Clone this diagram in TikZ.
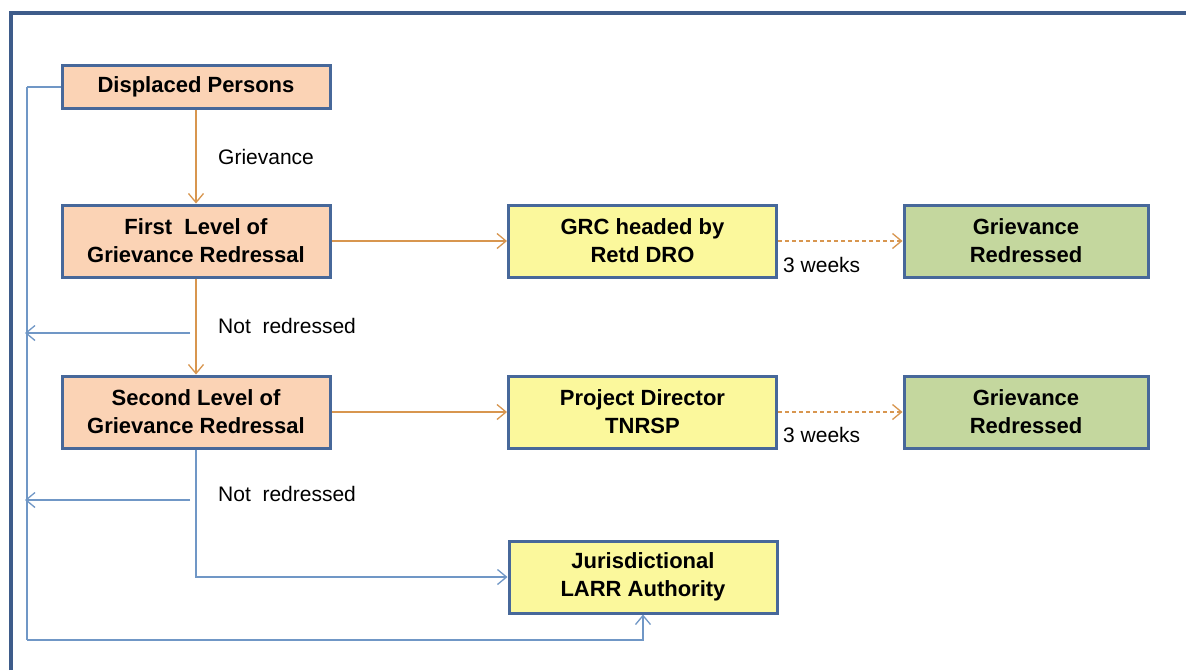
\documentclass[tikz,border=0pt]{standalone}
\usepackage{fontspec}
\setmainfont{Liberation Sans}
\usetikzlibrary{arrows.meta}
\definecolor{boxedge}{HTML}{47689A}
\definecolor{peach}{HTML}{FBD3B5}
\definecolor{lemon}{HTML}{FBF89C}
\definecolor{sage}{HTML}{C4D79E}
\definecolor{rust}{HTML}{D8964F}
\definecolor{steel}{HTML}{7097C6}
\definecolor{framecol}{HTML}{3E5C8A}
\tikzset{
  box/.style={draw=boxedge, line width=3pt, minimum width=268pt, minimum height=72pt,
    inner sep=0pt, align=center, font=\fontsize{22}{28}\selectfont\bfseries},
  note/.style={anchor=west, inner sep=0pt, font=\fontsize{21}{25}\selectfont},
  flow/.style={draw=rust, line width=1.3pt, ->},
  back/.style={draw=steel, line width=1.3pt},
  >={Straight Barb[length=9pt,width=15pt]}
}

\begin{document}
\begin{tikzpicture}[x=1pt, y=-1pt]
\useasboundingbox[fill=white] (0,0) rectangle (1186,670);
\draw[framecol, line width=3.5pt] (11,670) -- (11,13) -- (1186,13);
% blue return paths
\coordinate (railtop) at (27,87);
\coordinate (railfoot) at (27,640);
\coordinate (nr1) at (190,333);
\coordinate (nr2) at (190,500);
\coordinate (rail1) at (25,333);
\coordinate (rail2) at (25,500);
\draw[back] (railtop) -- (railfoot);
\draw[back, ->] (nr1) -- (rail1);
\draw[back, ->] (nr2) -- (rail2);
% boxes
\node[box, fill=peach, minimum height=43pt] at (196,87) (dp) {Displaced Persons};
\node[box, fill=peach] at (196,241) (first) {First\ \ Level of\\Grievance Redressal};
\node[box, fill=peach] at (196,412) (second) {Second Level of\\Grievance Redressal};
\node[box, fill=lemon] at (642.5,241) (grc) {GRC headed by\\Retd DRO};
\node[box, fill=lemon] at (642.5,412) (pd) {Project Director\\TNRSP};
\node[box, fill=sage, minimum width=244pt] at (1026,241) (done1) {Grievance\\Redressed};
\node[box, fill=sage, minimum width=244pt] at (1026,412) (done2) {Grievance\\Redressed};
\node[box, fill=lemon] at (643,577) (larr) {Jurisdictional\\LARR Authority};
% labels
\node[note] at (218,157) (lgriev) {Grievance};
\node[note] at (218,326) (lnot1) {Not\ \ redressed};
\node[note] at (218,494) (lnot2) {Not\ \ redressed};
\node[note] at (783,265) (lweek1) {3 weeks};
\node[note] at (783,435) (lweek2) {3 weeks};
% orange flow
\draw[flow] (dp) -- (first);
\draw[flow] (first) -- (second);
\draw[flow] (first) -- (grc);
\draw[flow] (second) -- (pd);
\draw[flow, dash pattern=on 4pt off 3pt] (grc) -- (done1);
\draw[flow, dash pattern=on 4pt off 3pt] (pd) -- (done2);
% blue flow
\draw[back] (dp.west) -- (railtop);
\draw[back, ->] (railfoot) -| (larr.south);
\draw[back, ->] (second.south) |- (larr.west);
\end{tikzpicture}
\end{document}
